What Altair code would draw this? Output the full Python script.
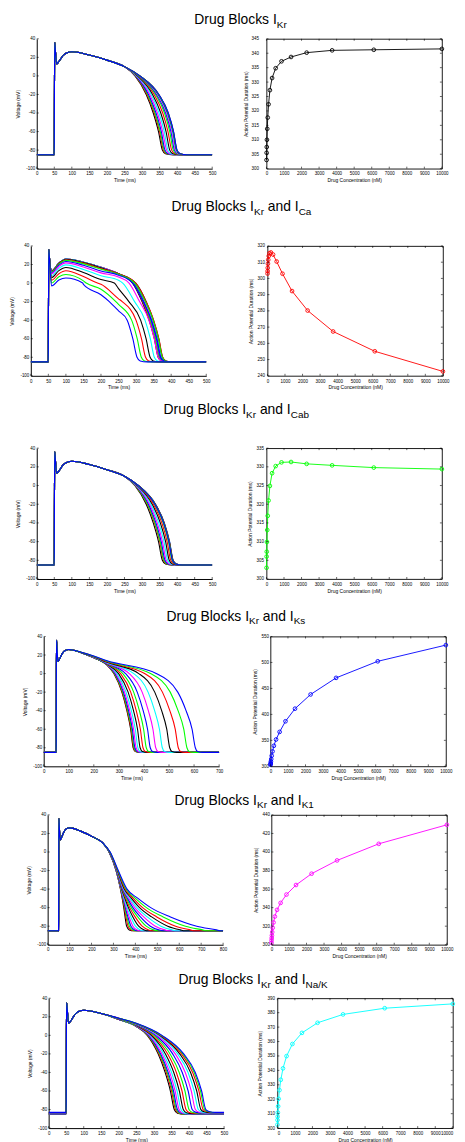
import altair as alt
import pandas as pd

FONT = "Liberation Sans"

# ---------------- data ----------------
CONC = [6.3, 10.3, 16.9, 27.5, 45, 73.6, 120, 196, 321, 525, 858, 1402, 2291, 3743, 6118, 10000]
COLORS16 = ["#000000", "#ff0000", "#00ff00", "#0000ff", "#ff00ff", "#00ffff",
            "#000000", "#ff0000", "#00ff00", "#0000ff", "#ff00ff", "#00ffff",
            "#000000", "#ff0000", "#00ff00", "#0000ff"]

EARLY_T = [50, 50.6, 51.2, 53, 57, 63, 75, 90]
EARLY_V = [-72, 0, 36, 28, 13, 15.5, 22, 25.5]
PLAT_T = [100, 150, 200, 250]
PLATEAU = [26, 22.5, 17, 10]
LEVELS = [0, -20, -40, -60, -80]
FOOT_DT = [9, 28]
FOOT_DV = [1, 0]

APD_KR = [303, 305.5, 307.5, 310, 313.8, 317.7, 322.3, 327.2, 331.4, 334.8, 337.2, 338.7, 340.2, 341, 341.2, 341.5]
TIMES_KR = [[280, 312, 332, 347, 358], [281, 314, 335, 350, 361], [282, 316, 337, 352, 363],
            [282.5, 318.5, 340, 355, 365.5], [284, 322, 344, 359, 370], [285, 326, 348.5, 363.5, 374],
            [287, 330, 353.5, 368.5, 379], [289, 334.5, 359, 374, 384.5], [290, 338.5, 364, 379, 389],
            [291.5, 341.5, 367.5, 382.5, 392.5], [292.5, 344, 370, 385, 395], [293, 345.5, 372, 387, 397],
            [293.5, 347, 373.5, 388.5, 398.5], [294, 347.5, 374.5, 389.5, 399.5],
            [294, 347.5, 374.5, 389.5, 399.5], [294, 348, 375, 390, 400]]

APD_CA = [303, 304.5, 306.5, 309, 311.5, 313.8, 315.5, 316, 314.7, 310.4, 302.9, 292.2, 280.2, 267.3, 255.1, 242.7]
EARLY_T_CA = [50, 50.6, 51.2, 53, 59, 80]
DIP_CA = [13, 13, 13, 13, 13, 13, 12.8, 12.5, 12, 11, 10, 8, 6, 3, 0, -3]
V80_CA = [21.5, 21.5, 21.5, 21.5, 21.5, 21.4, 21.2, 20.9, 20.3, 19.2, 17.9, 15.8, 13.4, 10.1, 6.7, 3.2]
V100_CA = [26, 26, 26, 26, 26, 25.8, 25.6, 25.2, 24.5, 23.3, 21.8, 19.6, 16.8, 13.2, 9.3, 5.4]
V150_CA = [22.5, 22.5, 22.5, 22.5, 22.5, 22.3, 22, 21.5, 20.7, 19.2, 17.4, 14.7, 11.3, 7, 2.3, -1.5]
V200_CA = [17, 17, 17, 17, 17, 16.7, 16.4, 15.8, 14.8, 13.1, 11, 7.8, 3.8, -1.4, -6.6, -12.6]
V250_CA = [10, 10, 10, 10, 10, 10, 10, 10, 9.5, 8.5, 6.5, 3, -6, -17, -23, -30]
TIMES_CA = [[290, 317, 337, 352, 363], [291, 318.5, 338.5, 353.5, 364.5], [292, 320.5, 340.5, 355.5, 366.5],
            [294, 323, 343, 358, 369], [296, 325.5, 345.5, 360.5, 371.5], [298, 327.5, 348, 363, 374],
            [299, 328.8, 349.5, 364.5, 375.5], [299, 328.7, 350, 365, 376], [296, 326.3, 348.5, 363.6, 374.7],
            [290, 320, 344, 359.3, 370.4], [280, 310, 336.6, 351.8, 363], [262, 295.8, 325.4, 340.7, 352],
            [238, 279.5, 313, 328.5, 340], [190, 260.5, 299.8, 315.4, 327], [158, 242.3, 287.4, 303.2, 315],
            [148, 223.7, 274.7, 290.7, 302.7]]

APD_CAB = [303, 306, 307.3, 309.9, 313.1, 316.9, 321, 324.9, 328.3, 330.2, 331.2, 331.3, 330.8, 330.4, 329.8, 329.4]
TIMES_CAB = [[280, 312, 332, 347, 358], [281, 315, 335.4, 350.4, 361.3], [281.5, 316, 336.8, 351.8, 362.7],
             [282.5, 318.5, 339.7, 354.7, 365.5], [283.5, 321.5, 343.3, 358.3, 369], [285, 325, 347.6, 362.6, 373.2],
             [286.5, 329, 352.2, 367.2, 377.6], [288, 332.5, 356.5, 371.5, 381.9], [289, 336, 360.3, 375.3, 385.6],
             [290, 337.5, 362.5, 377.5, 387.6], [290, 338.5, 363.6, 378.6, 388.7], [290, 338.6, 363.7, 378.7, 388.8],
             [290, 338, 363.1, 378.1, 388.3], [290, 337.8, 362.7, 377.7, 387.9], [289.5, 337.2, 362, 377, 387.2],
             [289.5, 336.8, 361.6, 376.6, 386.8]]

APD_KS = [303, 304.5, 306.5, 309.5, 314, 320.4, 328.7, 339.5, 351.6, 366.3, 386.7, 411, 438.4, 470.3, 502.2, 533.4]
V150_KS = [22.5, 22.5, 22.5, 22.5, 22.5, 22.5, 22.6, 22.6, 22.6, 22.6, 22.7, 22.7, 22.8, 22.9, 22.9, 23]
V200_KS = [17, 17, 17, 17.1, 17.1, 17.2, 17.2, 17.3, 17.4, 17.6, 17.7, 17.9, 18.2, 18.5, 18.7, 19]
V250_KS = [10, 10, 10.1, 10.1, 10.2, 10.3, 10.4, 10.6, 10.8, 11.1, 11.5, 11.9, 12.4, 12.9, 13.5, 14]
TIMES_KS = [[280, 312, 332, 347, 357], [281.1, 313.4, 333.5, 348.6, 358.6], [282.6, 315.4, 335.6, 350.8, 360.8],
            [284.8, 318.3, 338.7, 353.9, 364], [288, 322.6, 343.2, 358.7, 368.8], [292.7, 328.8, 349.8, 365.5, 375.7],
            [298.9, 336.9, 358.4, 374.4, 384.7], [306.7, 347.2, 369.3, 385.7, 396.2], [315.6, 359, 381.8, 398.7, 409.3],
            [326.5, 373.3, 396.9, 414.4, 425.2], [341.3, 392.9, 417.6, 435.9, 447], [359.3, 416.6, 442.7, 461.9, 473.3],
            [379.4, 443.1, 470.7, 491, 502.8], [402.6, 473.8, 503.3, 524.8, 537], [426.2, 504.9, 536.1, 558.9, 571.5],
            [449, 535, 568, 592, 605]]

APD_K1 = [302.1, 304.7, 307.2, 310, 313.6, 318.3, 324, 330.4, 337.6, 345.1, 354.1, 364.4, 376.6, 390.9, 408.8, 429.3]
LEVELS_K1 = [0, -20, -40, -50, -60, -70, -80, -84]
TIMES_K1 = [[280, 312, 332, 340, 347, 353, 360, 372],
            [280.1, 312.2, 332.6, 341.4, 349.5, 357.1, 366.4, 380],
            [280.2, 312.4, 333.2, 342.9, 351.9, 361.3, 372.8, 387.9],
            [280.3, 312.6, 333.9, 344.5, 354.6, 365.8, 379.8, 396.7],
            [280.5, 312.9, 334.7, 346.5, 358.1, 371.6, 388.8, 407.8],
            [280.6, 313.3, 335.8, 349.1, 362.6, 379.3, 400.6, 422.5],
            [280.9, 313.7, 337.2, 352.4, 368.2, 388.6, 415, 440.5],
            [281.1, 314.2, 338.7, 356, 374.3, 399, 431, 460.4],
            [281.4, 314.8, 340.4, 360.1, 381.3, 410.8, 449.3, 483],
            [281.7, 315.4, 342.1, 364.3, 388.6, 423, 468.2, 506.5],
            [282, 316.1, 344.3, 369.4, 397.3, 437.7, 490.9, 534.8],
            [282.5, 316.9, 346.7, 375.3, 407.3, 454.4, 516.8, 567],
            [282.9, 317.9, 349.6, 382.2, 419.1, 474.3, 547.5, 605.2],
            [283.5, 319, 352.9, 390.3, 432.9, 497.5, 583.4, 649.8],
            [284.2, 320.4, 357.2, 400.4, 450.2, 526.7, 628.5, 705.9],
            [285, 322, 362, 412, 470, 560, 680, 770]]
FOOT_DT_K1 = [20]
FOOT_DV_K1 = [0]

APD_NAK = [302.4, 305.6, 308, 310.8, 315.1, 320.3, 326.3, 333.5, 341.4, 349.9, 358.3, 366, 373, 378.8, 383.1, 386.1]
REST_NAK = [-85, -85, -84.9, -84.8, -84.7, -84.6, -84.4, -84.2, -84, -83.8, -83.6, -83.5, -83.3, -83.2, -83.1, -83]
EARLY_V_NAK = [-72, 0, 35, 28, 13, 15.5, 22.5, 26.5]
V200_NAK = [17, 17.1, 17.1, 17.2, 17.2, 17.3, 17.4, 17.6, 17.7, 17.9, 18, 18.1, 18.3, 18.4, 18.4, 18.5]
V250_NAK = [9.5, 9.6, 9.7, 9.9, 10, 10.2, 10.5, 10.8, 11.1, 11.5, 11.8, 12.2, 12.5, 12.7, 12.9, 13]
TIMES_NAK = [[281, 312, 332, 347, 358], [282.6, 314.8, 335.3, 350.4, 361.4], [283.8, 316.9, 337.8, 353, 364],
             [285.2, 319.3, 340.6, 355.9, 367], [287.4, 323.1, 345.1, 360.5, 371.7], [290, 327.6, 350.4, 366, 377.3],
             [293, 332.9, 356.6, 372.5, 383.7], [296.6, 339.2, 364, 380.1, 391.5], [300.6, 346, 372.1, 388.5, 400],
             [304.9, 353.5, 380.8, 397.6, 409.1], [309.1, 360.8, 389.4, 406.5, 418.1], [312.9, 367.5, 397.4, 414.6, 426.4],
             [316.4, 373.5, 404.5, 422, 433.9], [319.3, 378.6, 410.5, 428.3, 440.2], [321.5, 382.4, 414.9, 432.8, 444.8],
             [323, 385, 418, 436, 448]]

TITLE_PARTS = [["Drug Blocks I", "Kr"],
               ["Drug Blocks I", "Kr", " and I", "Ca"],
               ["Drug Blocks I", "Kr", " and I", "Cab"],
               ["Drug Blocks I", "Kr", " and I", "Ks"],
               ["Drug Blocks I", "Kr", " and I", "K1"],
               ["Drug Blocks I", "Kr", " and I", "Na/K"]]

N = 16
REST85 = [-85] * N


def build_traces(rest, early_t, early_v, plat_t, plat_v, levels, times, foot_dt, foot_dv, t_end):
    recs = []
    for i in range(N):
        pts = [(0.0, rest[i]), (49.5, rest[i])]
        pts += list(zip(early_t, early_v[i]))
        pts += list(zip(plat_t, plat_v[i]))
        pts += list(zip(times[i], levels))
        last = times[i][-1]
        pts += [(last + d, rest[i] + dv) for d, dv in zip(foot_dt, foot_dv)]
        pts.append((float(t_end), rest[i]))
        pts.sort(key=lambda p: p[0])
        for t, v in pts:
            recs.append({"t": t, "v": v, "trace": i, "color": COLORS16[i]})
    return pd.DataFrame(recs)


df1 = build_traces(REST85, EARLY_T, [EARLY_V] * N, PLAT_T, [PLATEAU] * N, LEVELS, TIMES_KR, FOOT_DT, FOOT_DV, 500)
early_ca = [[-72, 0, 36, 28, DIP_CA[i], V80_CA[i]] for i in range(N)]
plat_ca = [[V100_CA[i], V150_CA[i], V200_CA[i], V250_CA[i]] for i in range(N)]
df2 = build_traces(REST85, EARLY_T_CA, early_ca, PLAT_T, plat_ca, LEVELS, TIMES_CA, FOOT_DT, FOOT_DV, 500)
df3 = build_traces(REST85, EARLY_T, [EARLY_V] * N, PLAT_T, [PLATEAU] * N, LEVELS, TIMES_CAB, FOOT_DT, FOOT_DV, 500)
plat_ks = [[26, V150_KS[i], V200_KS[i], V250_KS[i]] for i in range(N)]
df4 = build_traces(REST85, EARLY_T, [EARLY_V] * N, PLAT_T, plat_ks, LEVELS, TIMES_KS, FOOT_DT, FOOT_DV, 700)
df5 = build_traces(REST85, EARLY_T, [EARLY_V] * N, PLAT_T, [PLATEAU] * N, LEVELS_K1, TIMES_K1, FOOT_DT_K1, FOOT_DV_K1, 800)
plat_nak = [[27, 23.5, V200_NAK[i], V250_NAK[i]] for i in range(N)]
df6 = build_traces(REST_NAK, EARLY_T, [EARLY_V_NAK] * N, PLAT_T, plat_nak, LEVELS, TIMES_NAK, FOOT_DT, FOOT_DV, 500)

# ---------------- layout constants ----------------
PW = 177
PLOT_LEFT = [36, 28, 36, 43, 47, 48]
PLOT_TOP = [30, 236, 437, 624, 800, 982]
PLOT_H = [131, 131, 132, 131, 131, 131]
TITLE_BASE = [17.5, 203.3, 405, 610.7, 793.3, 970]
TITLE_X = [196, 173, 165, 168, 176, 180]
GAP = [26.75, 37.75, 30.75, 28.75, 25.75, 29.75]
RLABPAD = [8, 3, 3, 2, 2, 3]
RTITLEPAD = [3, 4, 4, 4, 4, 4]
RFLUSH = [False, False, False, False, False, True]
LEFT_AXIS_EXT = 21.5
TOPX = 2.25
BOTX = 14.3
LAB_FS = 4.5
TIT_FS = 5
MAIN_FS = 14
SUB_FS = 10
SUB_DY = 3.5

ARIAL = {"D": 722, "r": 333, "u": 556, "g": 556, " ": 278, "B": 667, "l": 222, "o": 556, "c": 500,
         "k": 500, "s": 500, "I": 278, "K": 667, "a": 556, "n": 556, "d": 556, "C": 722, "b": 556,
         "N": 722, "/": 278, "1": 556}


def tw(s, fs):
    return sum(ARIAL.get(ch, 556) for ch in s) * fs / 1000.0


DUMMY = pd.DataFrame({"a": [0]})


def axis(values, title, labpad, titlepad, domain=True, flush=False):
    return alt.Axis(values=values, title=title, labelExpr="'' + datum.value", labelFont=FONT, titleFont=FONT,
                    labelFontSize=LAB_FS, titleFontSize=TIT_FS, labelColor="black", titleColor="black",
                    titleFontWeight="normal", ticks=False, domain=domain, domainColor="black",
                    domainWidth=1, labelFlush=flush, labelOverlap=False, grid=False, minExtent=0,
                    labelPadding=labpad, titlePadding=titlepad)


def left_panel(df, xmax, xstep, h):
    xt = list(range(0, xmax + 1, xstep))
    yt = list(range(-100, 41, 20))
    X = alt.X("t:Q", scale=alt.Scale(domain=[0, xmax], nice=False, zero=False),
              axis=axis(xt, "Time (ms)", 2.3, 2.5))
    Y = alt.Y("v:Q", scale=alt.Scale(domain=[-100, 40], nice=False, zero=False),
              axis=axis(yt, "Voltage (mV)", 2, 5.5))
    lines = alt.Chart(df).mark_line(strokeWidth=1.1, interpolate="monotone", clip=True).encode(
        x=X, y=Y, color=alt.Color("color:N", scale=None), detail="trace:N")
    tx = alt.Chart(pd.DataFrame({"t": xt})).mark_rule(color="black", strokeWidth=0.6).encode(
        x=X, y=alt.value(h), y2=alt.value(h - 2))
    ty = alt.Chart(pd.DataFrame({"v": yt})).mark_rule(color="black", strokeWidth=0.6).encode(
        y=Y, x=alt.value(0), x2=alt.value(2))
    return alt.layer(lines, tx, ty).properties(width=PW, height=h)


def right_panel(apd, color, ymin, ymax, ystep, h, labpad, titlepad, flush):
    df = pd.DataFrame({"conc": CONC, "apd": apd})
    xt = list(range(0, 10001, 1000))
    yt = list(range(ymin, ymax + 1, ystep))
    X = alt.X("conc:Q", scale=alt.Scale(domain=[0, 10000], nice=False, zero=False),
              axis=axis(xt, "Drug Concentration (nM)", 2.3, 2.5, False, flush))
    Y = alt.Y("apd:Q", scale=alt.Scale(domain=[ymin, ymax], nice=False, zero=False),
              axis=axis(yt, "Action Potential Duration (ms)", labpad, titlepad, False))
    base = alt.Chart(df).encode(x=X, y=Y)
    line = base.mark_line(color=color, strokeWidth=0.9)
    pts = base.mark_point(shape="circle", filled=False, size=14, color=color, strokeWidth=0.9, opacity=1)
    xdf = pd.DataFrame({"conc": xt})
    ydf = pd.DataFrame({"apd": yt})
    rule = dict(color="black", strokeWidth=0.6)
    tb = alt.Chart(xdf).mark_rule(**rule).encode(x=X, y=alt.value(h), y2=alt.value(h - 2))
    tt = alt.Chart(xdf).mark_rule(**rule).encode(x=X, y=alt.value(0), y2=alt.value(2))
    tl = alt.Chart(ydf).mark_rule(**rule).encode(y=Y, x=alt.value(0), x2=alt.value(2))
    tr = alt.Chart(ydf).mark_rule(**rule).encode(y=Y, x=alt.value(PW), x2=alt.value(PW - 2))
    return alt.layer(line, pts, tb, tt, tl, tr).properties(
        width=PW, height=h, view=alt.ViewBackground(stroke="black", strokeWidth=0.9))


def title_chart(parts, x0, base_y, h):
    layers = []
    x = x0
    for k, s in enumerate(parts):
        sub = (k % 2 == 1)
        fs = SUB_FS if sub else MAIN_FS
        y = base_y + (SUB_DY if sub else 0)
        if s.startswith(" "):
            x += tw(" ", fs)
            s = s.lstrip()
        layers.append(alt.Chart(DUMMY).mark_text(text=s, font=FONT, fontSize=fs, align="left",
                                                 baseline="alphabetic", color="black")
                      .encode(x=alt.value(x), y=alt.value(y)))
        x += tw(s, fs)
    return alt.layer(*layers).properties(width=440, height=h)


def spacer(w):
    return alt.Chart(DUMMY).mark_rect(opacity=0).encode(
        x=alt.value(0), x2=alt.value(w), y=alt.value(0), y2=alt.value(1)).properties(width=w, height=1)


LEFT_DATA = [df1, df2, df3, df4, df5, df6]
LEFT_XMAX = [500, 500, 500, 700, 800, 500]
LEFT_XSTEP = [50, 50, 50, 100, 100, 50]
RIGHT_APD = [APD_KR, APD_CA, APD_CAB, APD_KS, APD_K1, APD_NAK]
RIGHT_COLOR = ["#000000", "#ff0000", "#00ff00", "#0000ff", "#ff00ff", "#00ffff"]
RIGHT_Y = [(300, 345, 5), (240, 320, 10), (300, 335, 5), (300, 550, 50), (300, 440, 20), (300, 390, 10)]

items = []
prev_bottom = 8.0
for i in range(6):
    h = PLOT_H[i]
    th = PLOT_TOP[i] - TOPX - prev_bottom
    items.append(title_chart(TITLE_PARTS[i], TITLE_X[i] - 8, TITLE_BASE[i] - prev_bottom, th))
    lp = left_panel(LEFT_DATA[i], LEFT_XMAX[i], LEFT_XSTEP[i], h)
    ymin, ymax, ystep = RIGHT_Y[i]
    rp = right_panel(RIGHT_APD[i], RIGHT_COLOR[i], ymin, ymax, ystep, h, RLABPAD[i], RTITLEPAD[i], RFLUSH[i])
    inner = alt.hconcat(lp, rp, spacing=GAP[i])
    sw = max(0.5, PLOT_LEFT[i] - 8 - LEFT_AXIS_EXT - 0.01)
    items.append(alt.hconcat(spacer(sw), inner, spacing=0.01))
    prev_bottom = PLOT_TOP[i] + h + BOTX

chart = alt.vconcat(*items, spacing=0, padding=0, background="white").configure_view(stroke=None)

chart.save("out.html", embed_options={"renderer": "svg", "actions": False})
